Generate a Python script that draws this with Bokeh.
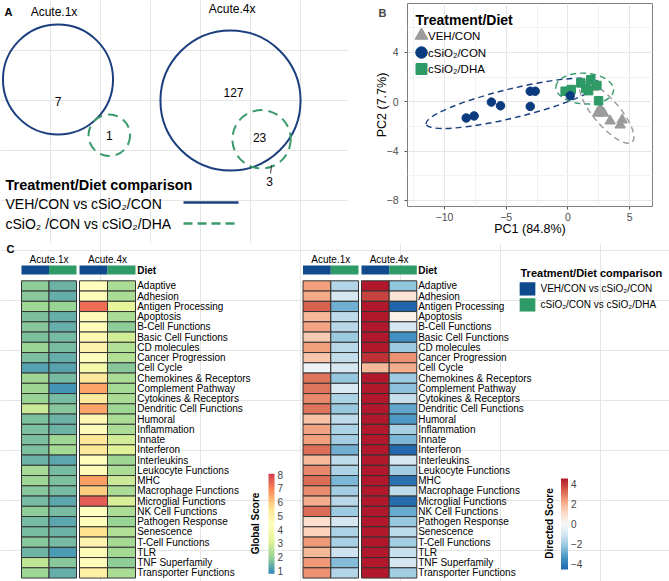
import numpy as np
from bokeh.plotting import figure
from bokeh.models import (Range1d, ColorBar, LinearColorMapper, FixedTicker,
                          SingleIntervalTicker, Label, ColumnDataSource)
from bokeh.layouts import row, column
from bokeh.core.properties import value
from bokeh.embed import file_html
from bokeh.resources import INLINE

FONT = "Liberation Sans"
BLUE = "#0E4A8C"
NAVY = "#1B3F7E"
PT_BLUE = "#0B3B7F"
GREEN = "#2E9A66"
VGREEN = "#3A9A6A"
GRAY = "#9B9B9B"

# ---------------- data ----------------
comparisons = ["VEH/CON vs cSiO\u2082/CON", "cSiO\u2082 /CON vs cSiO\u2082/DHA"]
legend_comparisons = ["VEH/CON vs cSiO\u2082/CON", "cSiO\u2082/CON vs cSiO\u2082/DHA"]
venn_panels = ["Acute.1x", "Acute.4x"]
venn_only_a = [7, 127]
venn_both = [0, 23]
venn_only_b = [1, 3]

groups = ["VEH/CON", "cSiO\u2082/CON", "cSiO\u2082/DHA"]
pc1_veh = [2.08, 2.62, 2.41, 2.90, 3.43, 4.24, 4.40]
pc2_veh = [1.18, -0.58, -0.93, -0.93, -1.56, -1.89, -1.48]
pc1_con = [-8.24, -7.60, -6.20, -5.46, -3.05, -2.65, -3.05, 0.19]
pc2_con = [-1.32, -1.15, -0.03, -0.33, 0.85, 0.85, -0.38, 0.49]
pc1_dha = [-0.22, 0.27, 1.05, 1.46, 1.68, 1.86, 2.35, 2.49]
pc2_dha = [0.85, 0.99, 1.53, 1.07, 0.90, 1.78, 1.32, 0.08]
pc1_label = "PC1 (84.8%)"
pc2_label = "PC2 (7.7%)"

functions = ["Adaptive", "Adhesion", "Antigen Processing", "Apoptosis",
             "B-Cell Functions", "Basic Cell Functions", "CD molecules",
             "Cancer Progression", "Cell Cycle", "Chemokines & Receptors",
             "Complement Pathway", "Cytokines & Receptors",
             "Dendritic Cell Functions", "Humoral", "Inflammation", "Innate",
             "Interferon", "Interleukins", "Leukocyte Functions", "MHC",
             "Macrophage Functions", "Microglial Functions", "NK Cell Functions",
             "Pathogen Response", "Senescence", "T-Cell Functions", "TLR",
             "TNF Superfamily", "Transporter Functions"]
heat_cols = ["Acute.1x", "Acute.4x"]

global_1x_a = [1.9, 1.8, 2.1, 1.7, 1.8, 1.7, 2.0, 1.7, 1.2, 2.1, 2.1, 2.0, 2.8, 1.7,
               1.7, 1.7, 1.7, 1.5, 2.2, 2.1, 1.8, 1.6, 1.9, 1.6, 1.6, 1.8, 1.5, 2.6, 2.1]
global_1x_b = [1.5, 1.4, 2.0, 1.4, 1.4, 1.6, 1.6, 1.4, 1.25, 1.6, 1.0, 1.6, 1.8, 1.5,
               1.5, 2.1, 2.2, 1.3, 1.6, 1.7, 1.6, 1.3, 1.6, 1.3, 1.5, 1.6, 1.1, 1.8, 1.4]
global_4x_a = [4.5, 4.6, 7.3, 4.6, 4.6, 4.7, 4.9, 4.3, 3.8, 5.3, 6.5, 5.2, 6.5, 4.7,
               4.6, 5.3, 5.3, 4.5, 4.6, 6.6, 5.9, 7.6, 4.4, 4.5, 5.5, 4.8, 4.6, 4.5, 5.0]
global_4x_b = [2.3, 2.3, 3.3, 2.3, 1.9, 2.9, 2.4, 2.4, 1.8, 2.3, 2.2, 2.3, 2.1, 2.3,
               2.3, 2.9, 3.1, 2.1, 2.3, 2.8, 2.3, 3.0, 2.3, 2.0, 2.4, 2.2, 2.2, 1.9, 2.3]

directed_1x_a = [2.4, 2.2, 3.4, 1.9, 2.3, 1.5, 2.4, 1.6, -0.3, 3.1, 3.1, 2.8, 3.1, 1.7,
                 2.3, 2.4, 3.2, 1.9, 2.8, 3.2, 2.7, 2.1, 3.2, 1.0, 1.3, 2.5, 1.9, 2.5, 2.6]
directed_1x_b = [-1.7, -1.0, -2.8, -1.5, -1.6, -2.1, -1.6, -1.4, -1.0, -2.2, -0.9, -1.8, -2.2, -1.5,
                 -1.8, -2.0, -2.8, -1.5, -1.8, -2.6, -2.0, -1.6, -2.1, -1.0, -1.8, -1.9, -1.2, -2.5, -1.7]
directed_4x_a = [4.6, 3.9, 4.6, 4.6, 4.6, 4.6, 4.6, 4.2, 1.9, 4.6, 4.6, 4.6, 4.6, 4.6,
                 4.6, 4.6, 4.6, 4.6, 4.6, 4.6, 4.6, 4.6, 4.6, 4.6, 4.6, 4.6, 4.6, 4.6, 4.6]
directed_4x_b = [-2.3, 0.8, -4.6, 0.3, -1.0, -3.5, -2.1, 2.6, 2.1, -2.1, -2.4, -1.3, -3.0, -3.3,
                 -1.9, -2.6, -4.5, -1.0, -2.0, -4.3, -1.5, -4.4, -2.9, -2.2, -1.5, -2.0, -1.3, -1.0, -2.0]

global_ticks = [1, 2, 3, 4, 5, 6, 7, 8]
directed_ticks = [-4, -2, 0, 2, 4]


def make_palette(stops, n=256):
    rgb = np.array([[int(h[i:i + 2], 16) for i in (1, 3, 5)] for h in stops], dtype=float)
    pos = np.linspace(0, 1, len(stops))
    t = np.linspace(0, 1, n)
    cols = np.stack([np.interp(t, pos, rgb[:, c]) for c in range(3)], axis=1)
    return ["#%02x%02x%02x" % tuple(int(round(v)) for v in c) for c in cols]


def txt(p, x, y, s, size="10px", bold=False, align="left", base="middle",
        color="black", angle=0.0):
    p.text(x=[x], y=[y], text=[s], text_font=value(FONT), text_font_size=size,
           text_font_style="bold" if bold else "normal", text_align=align,
           text_baseline=base, text_color=color, angle=angle)


def blank(p):
    p.outline_line_color = None
    p.background_fill_color = "white"
    p.border_fill_color = "white"


def no_align(p):
    try:
        p.frame_align = False
    except AttributeError:
        pass


W = 669
H = 581
TOP_H = 243
VENN_W = 348
HEAT_H = H - TOP_H

# ---------------- panel A: Euler diagrams ----------------
venn = figure(frame_width=VENN_W, frame_height=TOP_H, x_range=Range1d(0, VENN_W),
              y_range=Range1d(TOP_H, 0), x_axis_location=None,
              y_axis_location=None, min_border=0, output_backend="svg",
              toolbar_location=None)
blank(venn)
no_align(venn)


def lens_area(d, r1, r2):
    if d >= r1 + r2:
        return 0.0
    if d <= abs(r1 - r2):
        return np.pi * min(r1, r2) ** 2
    a1 = r1 ** 2 * np.arccos((d * d + r1 * r1 - r2 * r2) / (2 * d * r1))
    a2 = r2 ** 2 * np.arccos((d * d + r2 * r2 - r1 * r1) / (2 * d * r2))
    a3 = 0.5 * np.sqrt((-d + r1 + r2) * (d + r1 - r2) * (d - r1 + r2) * (d + r1 + r2))
    return a1 + a2 - a3


def center_distance(r1, r2, target):
    lo, hi = abs(r1 - r2), r1 + r2
    for _ in range(80):
        mid = 0.5 * (lo + hi)
        if lens_area(mid, r1, r2) > target:
            lo = mid
        else:
            hi = mid
    return 0.5 * (lo + hi)


venn_scale = [20.8, 5.72]
venn_anchor = [(57.5, 79.0), (230.0, 100.0)]
venn_dir = [np.deg2rad(47.4), np.deg2rad(51.3)]
venn_title_xy = [(53.5, 11.7), (231.7, 8.0)]

for k in range(2):
    s = venn_scale[k]
    ra = s * np.sqrt(venn_only_a[k] + venn_both[k])
    rb = s * np.sqrt(venn_only_b[k] + venn_both[k])
    d = center_distance(ra, rb, np.pi * s * s * venn_both[k])
    cx, cy = venn_anchor[k]
    gx, gy = cx + d * np.cos(venn_dir[k]), cy + d * np.sin(venn_dir[k])
    venn.circle(x=[cx], y=[cy], radius=ra, fill_color=None, line_color=NAVY,
                line_width=2)
    venn.circle(x=[gx], y=[gy], radius=rb, fill_color=None, line_color=VGREEN,
                line_width=2, line_dash="10 6")
    txt(venn, venn_title_xy[k][0], venn_title_xy[k][1], venn_panels[k],
        size="12px", align="center")
    if k == 0:
        txt(venn, cx, cy + 22, str(venn_only_a[k]), size="12px", align="center")
        txt(venn, gx, gy, str(venn_only_b[k]), size="12px", align="center")
    else:
        txt(venn, cx + 3, cy - 8, str(venn_only_a[k]), size="12px", align="center")
        txt(venn, gx - 2, gy - 2, str(venn_both[k]), size="12px", align="center")
        txt(venn, gx + 8, gy + 42, str(venn_only_b[k]), size="12px", align="center")
        venn.segment(x0=[gx + 10], y0=[gy + 26], x1=[gx + 9], y1=[gy + 34],
                     line_color="#333333", line_width=1)

txt(venn, 4, 11.7, "A", size="11px", bold=True)
txt(venn, 5, 184, "Treatment/Diet comparison", size="14.5px", bold=True)
txt(venn, 5, 203, comparisons[0], size="14px")
txt(venn, 5, 223, comparisons[1], size="14px")
venn.segment(x0=[183], y0=[202], x1=[238], y1=[202], line_color=NAVY, line_width=2.5)
venn.segment(x0=[183], y0=[223], x1=[238], y1=[223], line_color=VGREEN,
             line_width=2.5, line_dash="9 5")

# ---------------- panel B: PCA ----------------
PX = (-13.0, 6.86)
PY = (-8.5, 7.97)
FL, FR, FT, FB = 407, 652, 3, 206
pca = figure(width=W - VENN_W, height=TOP_H, x_range=Range1d(*PX), y_range=Range1d(*PY),
             min_border_left=FL - VENN_W, min_border_right=W - FR, min_border_top=FT,
             min_border_bottom=TOP_H - FB, output_backend="svg",
             toolbar_location=None)
no_align(pca)
pca.background_fill_color = "white"
pca.border_fill_color = "white"
pca.outline_line_color = "#7F7F7F"
pca.outline_line_width = 1
pca.xaxis.ticker = SingleIntervalTicker(interval=5, num_minor_ticks=2)
pca.yaxis.ticker = SingleIntervalTicker(interval=4, num_minor_ticks=2)
pca.xgrid.grid_line_color = "#E6E6E6"
pca.ygrid.grid_line_color = "#E6E6E6"
pca.xgrid.minor_grid_line_color = "#F2F2F2"
pca.ygrid.minor_grid_line_color = "#F2F2F2"
pca.axis.axis_line_color = None
pca.axis.minor_tick_line_color = None
pca.axis.major_tick_line_color = "#555555"
pca.axis.major_tick_out = 3
pca.axis.major_tick_in = 0
pca.axis.major_label_text_font = FONT
pca.axis.major_label_text_font_size = "10.5px"
pca.axis.major_label_text_color = "#4D4D4D"
pca.axis.axis_label_text_font = FONT
pca.axis.axis_label_text_font_size = "12.5px"
pca.axis.axis_label_text_font_style = "normal"
pca.axis.axis_label_text_color = "black"
pca.xaxis.axis_label = pc1_label
pca.yaxis.axis_label = pc2_label
pca.xaxis.major_label_standoff = 2
pca.xaxis.axis_label_standoff = -2
pca.yaxis.major_label_standoff = 5
pca.yaxis.axis_label_standoff = -5


def sx2dx(sx):
    return PX[0] + (sx - FL) / (FR - FL) * (PX[1] - PX[0])


def sy2dy(sy):
    return PY[1] - (sy - FT) / (FB - FT) * (PY[1] - PY[0])


def ellipse_params(xs, ys, scale=np.sqrt(5.991)):
    pts = np.vstack([xs, ys])
    mu = pts.mean(axis=1)
    vals, vecs = np.linalg.eigh(np.cov(pts))
    major = vecs[:, 1]
    ang = np.arctan2(major[1], major[0])
    return mu[0], mu[1], 2 * scale * np.sqrt(vals[1]), 2 * scale * np.sqrt(vals[0]), ang


for xs, ys, col in [(pc1_con, pc2_con, NAVY), (pc1_dha, pc2_dha, VGREEN),
                    (pc1_veh, pc2_veh, GRAY)]:
    ex, ey, ew, eh, ea = ellipse_params(xs, ys)
    pca.ellipse(x=[ex], y=[ey], width=[ew], height=[eh], angle=[ea],
                fill_color=None, line_color=col, line_width=1.4, line_dash="6 4")

pca.scatter(pc1_veh, pc2_veh, marker="triangle", size=10.5, color=GRAY)
pca.scatter(pc1_dha, pc2_dha, marker="square", size=8.5, color=GREEN)
pca.scatter(pc1_con, pc2_con, marker="circle", size=8.5, color=PT_BLUE)

# manual legend (keys)
txt(pca, sx2dx(415), sy2dy(19.5), "Treatment/Diet", size="14px", bold=True)
leg_marker = ["triangle", "circle", "square"]
leg_color = [GRAY, PT_BLUE, GREEN]
leg_size = [13, 11.5, 11]
leg_y = [35, 52, 68.5]
for i in range(3):
    pca.scatter([sx2dx(421)], [sy2dy(leg_y[i])], marker=leg_marker[i],
                size=leg_size[i], color=leg_color[i])
    txt(pca, sx2dx(427.5), sy2dy(leg_y[i]), groups[i], size="11.5px")

pca.add_layout(Label(x=sx2dx(378), y=sy2dy(12), text="B", text_font=FONT,
                     text_font_size="11px", text_font_style="bold",
                     text_baseline="middle", text_align="left"), "left")

# ---------------- panel C: heatmaps ----------------
heat = figure(frame_width=W, frame_height=HEAT_H, x_range=Range1d(0, W),
              y_range=Range1d(H, TOP_H), x_axis_location=None,
              y_axis_location=None, min_border=0, output_backend="svg",
              toolbar_location=None)
blank(heat)
no_align(heat)

ROW_TOP = 280.3
ROW_H = 10.25
row_y = ROW_TOP + (np.arange(len(functions)) + 0.5) * ROW_H

global_mapper = LinearColorMapper(
    palette=make_palette(["#3288BD", "#99D594", "#E6F598", "#FFFFBF",
                          "#FEE08B", "#FC8D59", "#D53E4F"]), low=0.8, high=8.06)
directed_mapper = LinearColorMapper(
    palette=make_palette(["#2166AC", "#4393C3", "#92C5DE", "#D1E5F0", "#F7F7F7",
                          "#FDDBC7", "#F4A582", "#D6604D", "#B2182B"]),
    low=-4.6, high=4.6)

blocks = [
    ([global_1x_a, global_1x_b, global_4x_a, global_4x_b], global_mapper,
     [(21, 48.5), (48.5, 76), (79, 107), (107, 135)], 136.7),
    ([directed_1x_a, directed_1x_b, directed_4x_a, directed_4x_b], directed_mapper,
     [(302.5, 330.3), (330.3, 358), (361, 388.7), (388.7, 416.3)], 417.7),
]
comp_colors = [BLUE, GREEN, BLUE, GREEN]
for series, mapper, edges, lab_x in blocks:
    xs, ys, ws, vs = [], [], [], []
    for (x0, x1), vals in zip(edges, series):
        xs += [0.5 * (x0 + x1)] * len(vals)
        ws += [x1 - x0] * len(vals)
        ys += list(row_y)
        vs += list(vals)
    src = ColumnDataSource(dict(x=xs, y=ys, w=ws, v=vs))
    heat.rect(x="x", y="y", width="w", height=ROW_H, source=src,
              fill_color={"field": "v", "transform": mapper},
              line_color="#333333", line_width=1)
    # Diet annotation bars
    heat.rect(x=[0.5 * (a + b) for a, b in edges], y=[269.5] * 4,
              width=[b - a for a, b in edges], height=9, fill_color=comp_colors,
              line_color=None)
    for j in range(2):
        cxh = 0.5 * (edges[2 * j][0] + edges[2 * j + 1][1])
        txt(heat, cxh, 259, heat_cols[j], size="10px", align="center")
    txt(heat, lab_x, 269.5, "Diet", size="10px", bold=True)
    heat.text(x=[lab_x] * len(functions), y=list(row_y), text=functions,
              text_font=value(FONT), text_font_size="10px", text_align="left",
              text_baseline="middle", text_color="black")

txt(heat, 6, 248.5, "C", size="11px", bold=True)

# comparison legend
txt(heat, 520, 272, "Treatment/Diet comparison", size="11px", bold=True)
heat.rect(x=[527, 527], y=[288.4, 304.4], width=15.7, height=13.3,
          fill_color=[BLUE, GREEN], line_color=None)
txt(heat, 540, 288.4, legend_comparisons[0], size="10px")
txt(heat, 540, 304.4, legend_comparisons[1], size="10px")

# colour bars
cb1 = ColorBar(color_mapper=global_mapper, ticker=FixedTicker(ticks=global_ticks),
               width=6, height=100, location=(268, H - 573.3), padding=0, margin=0,
               bar_line_color=None, major_tick_line_color=None,
               major_label_text_font=FONT, major_label_text_font_size="10px",
               label_standoff=3, background_fill_alpha=0, border_line_color=None)
cb2 = ColorBar(color_mapper=directed_mapper, ticker=FixedTicker(ticks=directed_ticks),
               width=7, height=91, location=(560.5, H - 569), padding=0, margin=0,
               bar_line_color=None, major_tick_line_color=None,
               major_label_text_font=FONT, major_label_text_font_size="10px",
               major_label_overrides={-4: "\u22124", -2: "\u22122"},
               label_standoff=3, background_fill_alpha=0, border_line_color=None)
heat.add_layout(cb1)
heat.add_layout(cb2)
txt(heat, 255, 523, "Global Score", size="10px", bold=True, align="center",
    angle=np.pi / 2)
txt(heat, 549, 523, "Directed Score", size="10px", bold=True, align="center",
    angle=np.pi / 2)

layout = column(row(venn, pca), heat)
open("out.html", "w").write(file_html(layout, INLINE))
